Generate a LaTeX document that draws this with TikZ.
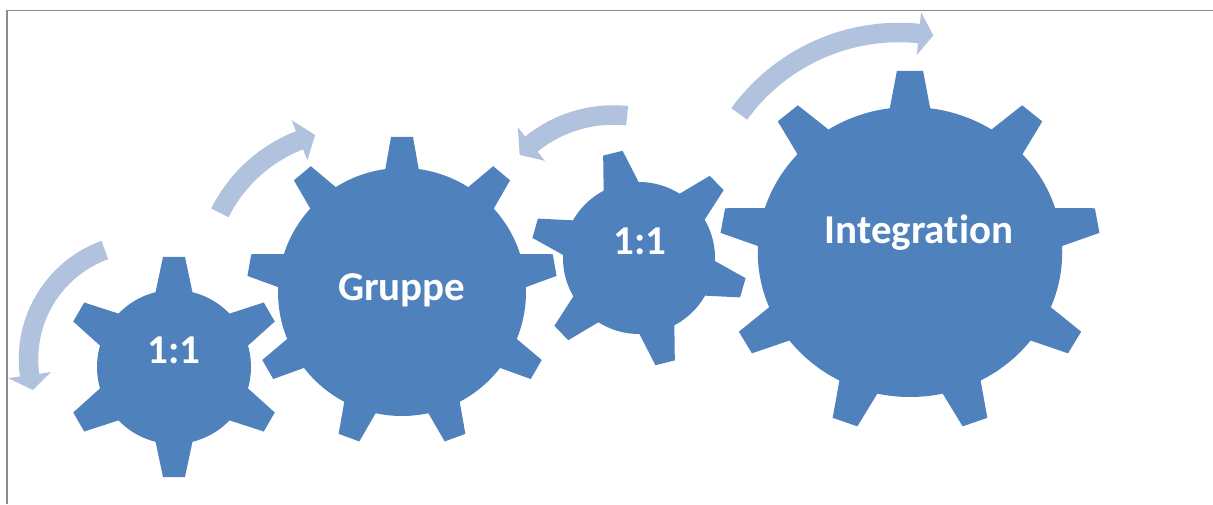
\documentclass[tikz,border=0pt]{standalone}
\usepackage{fontspec}
\setmainfont{Carlito}[Ligatures=NoCommon]
\usepackage{xcolor}
\definecolor{gearblue}{RGB}{79,129,189}
\definecolor{turnblue}{RGB}{177,194,222}
\definecolor{framegray}{RGB}{140,140,140}
\tikzset{>=latex}

\begin{document}
\begin{tikzpicture}[x=1pt, y=1pt,
    gear/.style={fill=gearblue},
    turn/.style={fill=turnblue},
    gearlabel/.style={anchor=base, inner sep=0pt, text=white, font=\fontsize{41}{49}\selectfont\bfseries}]
    \useasboundingbox (0,0) rectangle (1213,504);
    % Frame
    \draw[framegray, line width=1.5pt] (7,0) -- (7,493.5) -- (1213,493.5);

    % Gears: centre / body radius / tip radius / teeth / first tooth / tip and base half width / x stretch
    \foreach \cx/\cy/\rb/\ro/\n/\a/\wt/\wb/\sx in {174/137/77/110/6/90/11/18/1,
                                                  402/212/124/155/9/90/11/16.5/1,
                                                  639/246/76/108/6/104/10/17.5/1,
                                                  910/252/145/181/9/90/12.5/19/1.05} {
        \begin{scope}[shift={(\cx,\cy)}, xscale=\sx]
            \fill[gear] (0,0) circle (\rb);
            \pgfmathsetmacro\gap{360/\n}
            \pgfmathsetmacro\wi{\wb+(\wb-\wt)/(\ro-\rb)*8}
            \foreach \k in {1,...,\n}
                \fill[gear, rotate={\a+\k*\gap}] (\rb-8,-\wi) -- (\ro,-\wt) -- (\ro,\wt) -- (\rb-8,\wi) -- cycle;
        \end{scope}
    }

    % Labels
    \node[gearlabel] (one) at (174,140.7) {1:1};
    \node[gearlabel] (group) at (401.7,204) {Gruppe};
    \node[gearlabel] (two) at (640,249) {1:1};
    \node[gearlabel] (integration) at (919,260.7) {Integration};

    % Arrows: centre / mid radius / tail angle / head angle / tip angle
    \foreach \cx/\cy/\r/\s/\e/\t in {144.5/145/116/110/188/195.5,
                                    354/224/150/153.4/111.3/105,
                                    613.5/258.5/130.5/84/129/136,
                                    899/274/197.5/144/84.2/80} {
        \fill[turn, shift={(\cx,\cy)}] ({\s}:{\r+9.75}) arc[start angle=\s, end angle=\e, radius=\r+9.75]
            -- ({\e}:{\r+21.5}) -- ({\t}:{\r}) -- ({\e}:{\r-21.5}) -- ({\e}:{\r-9.75})
            arc[start angle=\e, end angle=\s, radius=\r-9.75] -- cycle;
    }
\end{tikzpicture}
\end{document}
